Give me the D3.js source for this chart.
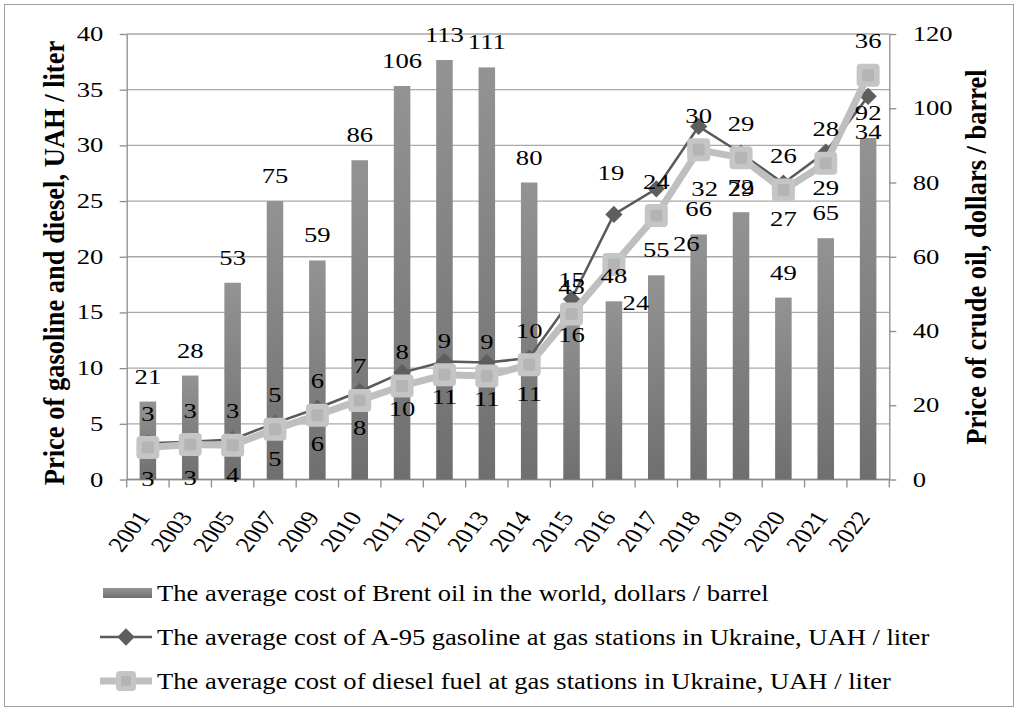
<!DOCTYPE html>
<html>
<head>
<meta charset="utf-8">
<script src="https://cdn.jsdelivr.net/npm/d3@7"></script>
<style>
  body { margin: 0; background: #fff; }
  svg { display: block; }
  text { font-family: "Liberation Serif", "Times New Roman", serif; fill: #000; }
</style>
</head>
<body>
<svg id="chart" width="1019" height="715"></svg>
<script>
const years = [2001, 2003, 2005, 2007, 2009, 2010, 2011, 2012, 2013, 2014, 2015, 2016, 2017, 2018, 2019, 2020, 2021, 2022];
const brent = [21, 28, 53, 75, 59, 86, 106, 113, 111, 80, 45, 48, 55, 66, 72, 49, 65, 92];
const gasoline = [3.26, 3.38, 3.6, 5.06, 6.4, 7.9, 9.6, 10.6, 10.5, 10.9, 16.2, 23.8, 26.1, 31.7, 29.3, 26.6, 29.4, 34.4];
const diesel = [2.87, 3.14, 3.08, 4.52, 5.78, 7.1, 8.4, 9.4, 9.3, 10.3, 14.85, 19.3, 23.7, 29.6, 28.9, 26.0, 28.4, 36.3];
const leftTicks = [0, 5, 10, 15, 20, 25, 30, 35, 40];
const rightTicks = [0, 20, 40, 60, 80, 100, 120];
const legendLabels = [
  "The average cost of Brent oil in the world, dollars / barrel",
  "The average cost of A-95 gasoline at gas stations in Ukraine, UAH / liter",
  "The average cost of diesel fuel at gas stations in Ukraine, UAH / liter"
];
const titleLeft = "Price of gasoline and diesel, UAH / liter";
const titleRight = "Price of crude oil, dollars / barrel";

// a few labels were dragged by hand in the original chart [dx, dy]
const labelNudge = {
  diesel: { 2016: [-3, -58] },
  gasoline: { 2016: [22, 53], 2017: [30, 19], 2018: [6, 27] }
};

const SX = 1.3; // text in the source looks stretched sideways
const m = { left: 126.7, right: 889.3, top: 34, bottom: 479.5 };

const svg = d3.select("#chart");
const defs = svg.append("defs");
const grad = defs.append("linearGradient").attr("id", "barGrad")
  .attr("x1", 0).attr("y1", 0).attr("x2", 0).attr("y2", 1);
grad.append("stop").attr("offset", "0%").attr("stop-color", "#939393");
grad.append("stop").attr("offset", "100%").attr("stop-color", "#6f6f6f");

const x = d3.scaleBand().domain(years).range([m.left, m.right]);
const yL = d3.scaleLinear().domain([0, 40]).range([m.bottom, m.top]);
const yR = d3.scaleLinear().domain([0, 120]).range([m.bottom, m.top]);
const cx = yr => x(yr) + x.bandwidth() / 2;

// outer frame
svg.append("rect")
  .attr("x", 4.5).attr("y", 4.5).attr("width", 1009).attr("height", 702)
  .attr("fill", "none").attr("stroke", "#9e9e9e");

// grid
svg.append("g").selectAll("line").data(leftTicks).join("line")
  .attr("x1", m.left).attr("x2", m.right)
  .attr("y1", d => yL(d)).attr("y2", d => yL(d))
  .attr("stroke", "#a8a8a8").attr("stroke-width", 1.3);

// axes
const gl = svg.append("g").attr("transform", `translate(${m.left},0)`)
  .call(d3.axisLeft(yL).tickValues(leftTicks).tickSize(7).tickSizeOuter(0));
const gr = svg.append("g").attr("transform", `translate(${m.right},0)`)
  .call(d3.axisRight(yR).tickValues(rightTicks).tickSize(7).tickSizeOuter(0));
[gl, gr].forEach(g => {
  g.select(".domain").attr("stroke", "#8c8c8c").attr("stroke-width", 1.3);
  g.selectAll(".tick line").attr("stroke", "#8c8c8c").attr("stroke-width", 1.3);
  g.selectAll("text").attr("font-size", 20.5).attr("fill", "#000")
    .attr("transform", `scale(${SX},1)`);
});
gl.selectAll("text").attr("x", -18);
gr.selectAll("text").attr("x", 18);

// category axis
const gx = svg.append("g").attr("transform", `translate(0,${m.bottom})`);
gx.append("line").attr("x1", m.left).attr("x2", m.right)
  .attr("stroke", "#8c8c8c").attr("stroke-width", 1.3);
gx.selectAll("line.tk").data(years.map(d => x(d)).concat([m.right])).join("line")
  .attr("class", "tk")
  .attr("x1", d => d).attr("x2", d => d).attr("y1", 0).attr("y2", 8)
  .attr("stroke", "#8c8c8c").attr("stroke-width", 1.3);
gx.selectAll("text").data(years).join("text")
  .attr("transform", d => `translate(${cx(d) + 3},38) scale(1.22,1) rotate(-56)`)
  .attr("text-anchor", "end").attr("font-size", 21.5)
  .text(d => d);

// bars
const bw = x.bandwidth() * 0.39;
svg.append("g").selectAll("rect").data(brent).join("rect")
  .attr("x", (d, i) => cx(years[i]) - bw / 2)
  .attr("y", d => yR(d))
  .attr("width", bw)
  .attr("height", d => yR(0) - yR(d))
  .attr("fill", "url(#barGrad)");

// gasoline line
const line = d3.line().x((d, i) => cx(years[i])).y(d => yL(d));
svg.append("path").datum(gasoline).attr("d", line)
  .attr("fill", "none").attr("stroke", "#5a5a5a").attr("stroke-width", 2.5);
const diamond = d3.symbol(d3.symbolSquare, 150);
svg.append("g").selectAll("path").data(gasoline).join("path")
  .attr("d", diamond)
  .attr("transform", (d, i) => `translate(${cx(years[i])},${yL(d)}) rotate(45)`)
  .attr("fill", "#5e5e5e");

// diesel line
svg.append("path").datum(diesel).attr("d", line)
  .attr("fill", "none").attr("stroke", "#bfbfbf").attr("stroke-width", 7)
  .attr("stroke-linejoin", "round");
const sq = svg.append("g").selectAll("g").data(diesel).join("g")
  .attr("transform", (d, i) => `translate(${cx(years[i])},${yL(d)})`);
sq.append("rect").attr("x", -11.5).attr("y", -11.5).attr("width", 23).attr("height", 23)
  .attr("rx", 4).attr("fill", "#c5c5c5");
sq.append("rect").attr("x", -6).attr("y", -6).attr("width", 12).attr("height", 12)
  .attr("rx", 2).attr("fill", "#b4b4b4");

// data labels
function addLabels(values, ypos, base, nudge) {
  svg.append("g").selectAll("text").data(values).join("text")
    .attr("transform", (d, i) => {
      const n = (nudge && nudge[years[i]]) || [0, 0];
      return `translate(${cx(years[i]) + n[0]},${ypos(d) + base + n[1]}) scale(${SX},1)`;
    })
    .attr("text-anchor", "middle").attr("font-size", 20.5)
    .text(d => Math.round(d));
}
addLabels(brent, yR, -18, null);
addLabels(diesel, yL, -27, labelNudge.diesel);
addLabels(gasoline, yL, 43, labelNudge.gasoline);

// axis titles
svg.append("text")
  .attr("transform", `translate(54,263) scale(1.12,1) rotate(-90)`)
  .attr("text-anchor", "middle").attr("dominant-baseline", "central")
  .attr("font-size", 26.5).attr("font-weight", "bold")
  .text(titleLeft);
svg.append("text")
  .attr("transform", `translate(976,257) scale(1.12,1) rotate(-90)`)
  .attr("text-anchor", "middle").attr("dominant-baseline", "central")
  .attr("font-size", 26.5).attr("font-weight", "bold")
  .text(titleRight);

// legend
const rowY = [593, 637, 681];
const lg = svg.append("g");
lg.append("rect").attr("x", 103).attr("y", rowY[0] - 5).attr("width", 49).attr("height", 10)
  .attr("fill", "url(#barGrad)");
lg.append("line").attr("x1", 100).attr("x2", 152).attr("y1", rowY[1]).attr("y2", rowY[1])
  .attr("stroke", "#5a5a5a").attr("stroke-width", 2.5);
lg.append("path").attr("d", diamond)
  .attr("transform", `translate(126,${rowY[1]}) rotate(45)`).attr("fill", "#5e5e5e");
lg.append("line").attr("x1", 100).attr("x2", 152).attr("y1", rowY[2]).attr("y2", rowY[2])
  .attr("stroke", "#bfbfbf").attr("stroke-width", 7);
lg.append("rect").attr("x", 126 - 10).attr("y", rowY[2] - 10).attr("width", 20).attr("height", 20)
  .attr("rx", 4).attr("fill", "#c5c5c5");
lg.append("rect").attr("x", 126 - 5).attr("y", rowY[2] - 5).attr("width", 10).attr("height", 10)
  .attr("rx", 2).attr("fill", "#b4b4b4");
lg.selectAll("text").data(legendLabels).join("text")
  .attr("transform", (d, i) => `translate(157,${rowY[i] + 8}) scale(1.18,1)`)
  .attr("font-size", 22.5)
  .text(d => d);
</script>
</body>
</html>
